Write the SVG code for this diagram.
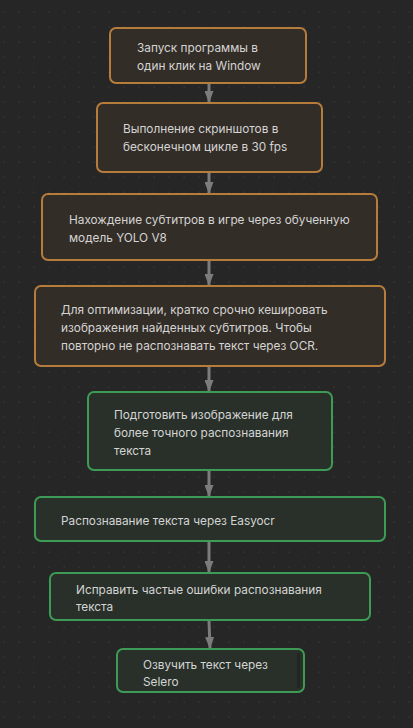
<svg xmlns="http://www.w3.org/2000/svg" width="413" height="728" viewBox="0 0 413 728">
<defs>
<pattern id="dots" x="0" y="0" width="15" height="15" patternUnits="userSpaceOnUse">
<rect x="3.5" y="11.5" width="1.2" height="1.2" fill="#3a3a3a"/>
</pattern>
<marker id="arr" markerWidth="12" markerHeight="9" refX="11" refY="4.5" orient="auto" markerUnits="userSpaceOnUse">
<path d="M0,0 L12,4.5 L0,9 Z" fill="#7c7c7c"/>
</marker>
</defs>
<style>
.o{fill:#332d27;stroke:#b57c3c;stroke-width:2}
.g{fill:#283029;stroke:#3e9b55;stroke-width:2}
.t{font-family:Inter,"Noto Sans",sans-serif;font-size:11.8px;fill:#d4d4d4}
.c{stroke:#7c7c7c;stroke-width:3;fill:none}
</style>
<rect width="413" height="728" fill="#262626"/>
<rect width="413" height="728" fill="url(#dots)"/>
<g id="connectors">
<line class="c" x1="209" y1="84" x2="209" y2="102" marker-end="url(#arr)"/>
<line class="c" x1="209" y1="173" x2="209" y2="193" marker-end="url(#arr)"/>
<line class="c" x1="209" y1="261" x2="209" y2="285" marker-end="url(#arr)"/>
<line class="c" x1="209" y1="367" x2="209" y2="391" marker-end="url(#arr)"/>
<line class="c" x1="209" y1="471" x2="209" y2="496" marker-end="url(#arr)"/>
<line class="c" x1="209" y1="542" x2="209" y2="572" marker-end="url(#arr)"/>
<line class="c" x1="209" y1="621" x2="210" y2="648" marker-end="url(#arr)"/>
</g>
<g id="n1">
<rect class="o" x="110" y="28" width="196" height="55" rx="6"/>
<text class="t" x="137" y="51.5">Запуск программы в</text>
<text class="t" x="137" y="69.5">один клик на Window</text>
</g>
<g id="n2">
<rect class="o" x="97" y="103" width="225" height="69" rx="6"/>
<text class="t" x="123" y="132.5">Выполнение скриншотов в</text>
<text class="t" x="123" y="150.5">бесконечном цикле в 30 fps</text>
</g>
<g id="n3">
<rect class="o" x="42" y="194" width="335" height="66" rx="6"/>
<text class="t" x="69" y="223.5">Нахождение субтитров в игре через обученную</text>
<text class="t" x="69" y="241.5">модель YOLO V8</text>
</g>
<g id="n4">
<rect class="o" x="35" y="286" width="350" height="80" rx="6"/>
<text class="t" x="61" y="313.5">Для оптимизации, кратко срочно кешировать</text>
<text class="t" x="61" y="331.5">изображения найденных субтитров. Чтобы</text>
<text class="t" x="61" y="349.5">повторно не распознавать текст через OCR.</text>
</g>
<g id="n5">
<rect class="g" x="88" y="392" width="244" height="78" rx="6"/>
<text class="t" x="114" y="418.5">Подготовить изображение для</text>
<text class="t" x="114" y="436.5">более точного распознавания</text>
<text class="t" x="114" y="454.5">текста</text>
</g>
<g id="n6">
<rect class="g" x="35" y="497" width="350" height="44" rx="6"/>
<text class="t" x="61" y="525">Распознавание текста через Easyocr</text>
</g>
<g id="n7">
<rect class="g" x="50" y="573" width="320" height="47" rx="6"/>
<text class="t" x="76" y="593.5">Исправить частые ошибки распознавания</text>
<text class="t" x="76" y="611">текста</text>
</g>
<g id="n8">
<rect class="g" x="117" y="649" width="187" height="43" rx="6"/>
<rect x="297" y="653" width="3" height="35" fill="#202622"/>
<text class="t" x="143" y="668.5">Озвучить текст через</text>
<text class="t" x="143" y="686">Selero</text>
</g>
</svg>
